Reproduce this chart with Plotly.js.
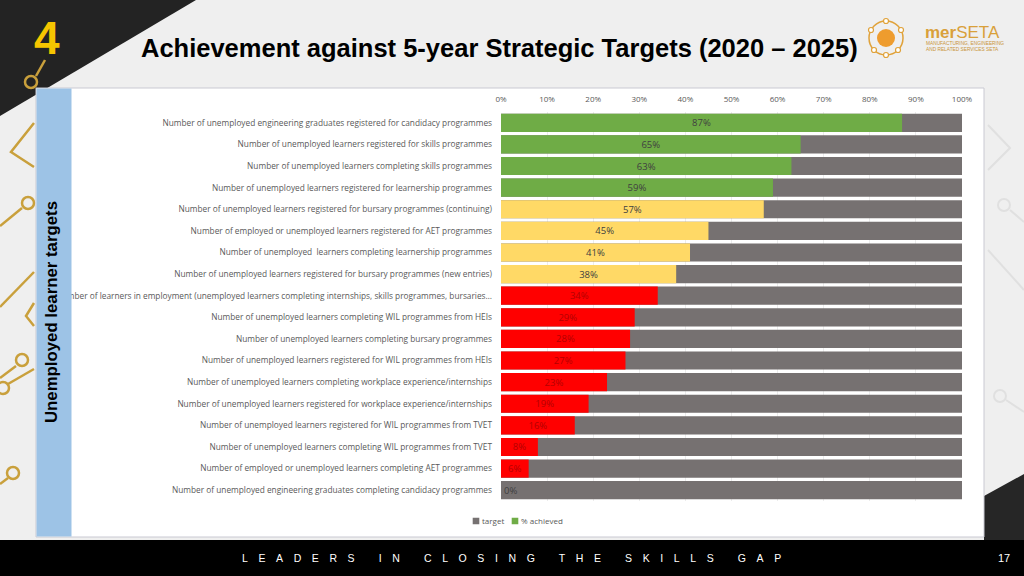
<!DOCTYPE html>
<html>
<head>
<meta charset="utf-8">
<script src="https://cdn.plot.ly/plotly-3.0.1.min.js"></script>
<style>
html,body{margin:0;padding:0;background:#efefef;}
#chart{width:1024px;height:576px;}
#chart .legendpoints path{transform:translate(34px,0px) scale(0.55);}
</style>
</head>
<body>
<div id="chart"></div>
<script>
// ---- data ----
const categories = [
  "Number of unemployed engineering graduates registered for candidacy programmes",
  "Number of unemployed learners registered for skills programmes",
  "Number of unemployed learners completing skills programmes",
  "Number of unemployed learners registered for learnership programmes",
  "Number of unemployed learners registered for bursary programmes (continuing)",
  "Number of employed or unemployed learners registered for AET programmes",
  "Number of unemployed  learners completing learnership programmes",
  "Number of unemployed learners registered for bursary programmes (new entries)",
  "Number of learners in employment (unemployed learners completing internships, skills programmes, bursaries\u2026",
  "Number of unemployed learners completing WIL programmes from HEIs",
  "Number of unemployed learners completing bursary programmes",
  "Number of unemployed learners registered for WIL programmes from HEIs",
  "Number of unemployed learners completing workplace experience/internships",
  "Number of unemployed learners registered for workplace experience/internships",
  "Number of unemployed learners registered for WIL programmes from TVET",
  "Number of unemployed learners completing WIL programmes from TVET",
  "Number of employed or unemployed learners completing AET programmes",
  "Number of unemployed engineering graduates completing candidacy programmes"
];
const achieved = [87, 65, 63, 59, 57, 45, 41, 38, 34, 29, 28, 27, 23, 19, 16, 8, 6, 0];
const target = [100, 100, 100, 100, 100, 100, 100, 100, 100, 100, 100, 100, 100, 100, 100, 100, 100, 100];
const xTickValues = [0, 10, 20, 30, 40, 50, 60, 70, 80, 90, 100];
const seriesNames = ["target", "% achieved"];

// ---- styles ----
const GREEN = "#6FAC46", YELLOW = "#FFD966", RED = "#FF0000", GREY = "#767171";
function bandColor(v) { return v >= 58 ? GREEN : (v >= 35 ? YELLOW : RED); }
function bandText(v) { return v >= 35 ? "#404040" : "#B40000"; }

const W = 1024, H = 576;
const X = p => p / W;
const Y = p => 1 - p / H;
function P(pts, close) {
  return pts.map((p, i) => (i ? "L" : "M") + X(p[0]).toFixed(5) + "," + Y(p[1]).toFixed(5)).join(" ") + (close ? " Z" : "");
}
function circ(cx, cy, r, line, fill, w) {
  return {type: "circle", xref: "paper", yref: "paper", x0: X(cx - r), x1: X(cx + r), y0: Y(cy + r), y1: Y(cy - r),
          line: {color: line, width: w == null ? 2 : w}, fillcolor: fill || "rgba(0,0,0,0)", layer: "below"};
}
function pathShape(pts, opt) {
  return Object.assign({type: "path", xref: "paper", yref: "paper", path: P(pts, opt.close), layer: opt.layer || "below",
          line: {color: opt.line || "rgba(0,0,0,0)", width: opt.width == null ? 0 : opt.width},
          fillcolor: opt.fill || "rgba(0,0,0,0)"});
}

const GOLD = "#C9A03C";
const shapes = [
  pathShape([[0,0],[196,0],[0,116]], {close: true, fill: "#232323"}),
  pathShape([[984,496],[1024,474],[1024,540],[984,540]], {close: true, fill: "#262626"}),
  pathShape([[45,60],[36,76]], {line: GOLD, width: 2.5}),
  circ(31, 82, 6, GOLD, null, 2.5),
  pathShape([[34,123],[11,152],[34,167]], {line: GOLD, width: 2.5}),
  pathShape([[0,226],[22,208]], {line: GOLD, width: 2.5}),
  circ(28, 203, 6, GOLD, null, 2.5),
  pathShape([[0,307],[34,272]], {line: GOLD, width: 2.5}),
  pathShape([[34,303],[26,316],[34,326]], {line: GOLD, width: 2.5}),
  pathShape([[0,378],[16,366]], {line: GOLD, width: 2.5}),
  circ(22, 360, 6, GOLD, null, 2.5),
  pathShape([[8,384],[34,369]], {line: GOLD, width: 2.5}),
  circ(3, 388, 6, GOLD, null, 2.5),
  pathShape([[0,484],[8,478]], {line: GOLD, width: 2.5}),
  circ(13, 473, 6, GOLD, null, 2.5),
  pathShape([[988,125],[1010,148],[988,170]], {line: "#e0e0e0", width: 2}),
  circ(1004, 205, 6, "#e0e0e0", null, 2),
  pathShape([[1010,210],[1024,222]], {line: "#e0e0e0", width: 2}),
  pathShape([[988,250],[1024,290]], {line: "#e0e0e0", width: 2}),
  circ(1000, 396, 6, "#e0e0e0", null, 2),
  pathShape([[1006,400],[1024,412]], {line: "#e0e0e0", width: 2}),
  {type: "rect", xref: "paper", yref: "paper", x0: X(36), x1: X(984), y0: Y(537), y1: Y(88),
   fillcolor: "#ffffff", line: {color: "#c9c9d2", width: 1}, layer: "below"},
  {type: "rect", xref: "paper", yref: "paper", x0: X(36.5), x1: X(71.5), y0: Y(536.5), y1: Y(88.5),
   fillcolor: "#9DC3E6", line: {width: 0}, layer: "above"},
  {type: "rect", xref: "paper", yref: "paper", x0: 0, x1: 1, y0: 0, y1: Y(540),
   fillcolor: "#000000", line: {width: 0}, layer: "above"},
  circ(886, 38, 17, "#E0A23A", null, 1.5),
  circ(886, 38, 9, "#EE9C2E", "#EE9C2E", 0),
  circ(886, 21, 2.5, "#E0A23A", "#ffffff", 1.2),
  circ(871, 30, 2.5, "#E0A23A", "#ffffff", 1.2),
  circ(901, 30, 2.5, "#E0A23A", "#ffffff", 1.2),
  circ(874, 50, 2.5, "#E0A23A", "#ffffff", 1.2),
  circ(898, 50, 2.5, "#E0A23A", "#ffffff", 1.2),
  circ(886, 55, 2.5, "#E0A23A", "#ffffff", 1.2)
];

const annotations = [
  {xref: "paper", yref: "paper", x: X(47), y: Y(38), text: "<b>4</b>", showarrow: false, xanchor: "center", yanchor: "middle",
   font: {family: "Liberation Sans, Arial, sans-serif", size: 46, color: "#F6C500"}},
  {xref: "paper", yref: "paper", x: X(139), y: Y(48), text: "<b>Achievement against 5-year Strategic Targets (2020 \u2013 2025)</b>",
   showarrow: false, xanchor: "left", yanchor: "middle",
   font: {family: "Liberation Sans, Arial, sans-serif", size: 25.5, color: "#000000"}},
  {xref: "paper", yref: "paper", x: X(923), y: Y(33), text: "<b>mer</b>SETA", showarrow: false, xanchor: "left", yanchor: "middle",
   font: {family: "Liberation Sans, Arial, sans-serif", size: 17, color: "#D9A03A"}},
  {xref: "paper", yref: "paper", x: X(924), y: Y(47), text: "MANUFACTURING, ENGINEERING<br>AND RELATED SERVICES SETA", showarrow: false,
   xanchor: "left", yanchor: "middle", align: "left",
   font: {family: "Liberation Sans, Arial, sans-serif", size: 4.8, color: "#C9953A"}},
  {xref: "paper", yref: "paper", x: X(51), y: Y(312), text: "<b>Unemployed learner targets</b>", textangle: -90, showarrow: false,
   xanchor: "center", yanchor: "middle", font: {family: "Liberation Sans, Arial, sans-serif", size: 16.8, color: "#000000"}},
  {xref: "paper", yref: "paper", x: X(240), y: Y(558), text: '<span style="letter-spacing:10.6px">LEADERS IN CLOSING THE SKILLS GAP</span>',
   showarrow: false, xanchor: "left", yanchor: "middle", font: {family: "Liberation Sans, Arial, sans-serif", size: 10.5, color: "#ffffff"}},
  {xref: "paper", yref: "paper", x: X(1004), y: Y(558), text: "17", showarrow: false, xanchor: "center", yanchor: "middle",
   font: {family: "Liberation Sans Narrow, Liberation Sans, sans-serif", size: 11, color: "#ffffff"}}
];

const TXT = "Open Sans, Liberation Sans, sans-serif";
const traces = [
  {type: "bar", orientation: "h", name: seriesNames[0], y: categories, x: target,
   marker: {color: GREY}, hoverinfo: "skip", legend: "legend"},
  {type: "bar", orientation: "h", name: seriesNames[1], y: categories, x: achieved,
   marker: {color: achieved.map(bandColor)},
   text: achieved.map(v => v + "%"), textposition: achieved.map(v => v > 0 ? "inside" : "outside"),
   insidetextanchor: "middle", constraintext: "none", cliponaxis: false,
   textfont: {family: TXT, size: 9.5, color: achieved.map(bandText)},
   outsidetextfont: {family: TXT, size: 9.5, color: "#404040"},
   insidetextfont: {family: TXT, size: 9.5, color: achieved.map(bandText)},
   hoverinfo: "skip", legend: "legend2"}
];

const legendBase = {orientation: "h", yanchor: "middle", xanchor: "left",
  font: {family: TXT, size: 8, color: "#595959"}, bgcolor: "rgba(0,0,0,0)", itemwidth: 30, borderwidth: 0};

const layout = {
  width: W, height: H,
  margin: {l: 0, r: 0, t: 0, b: 0},
  paper_bgcolor: "#efefef", plot_bgcolor: "rgba(0,0,0,0)",
  barmode: "overlay", bargap: 0.16,
  showlegend: true,
  legend: Object.assign({}, legendBase, {x: X(442), y: Y(521)}),
  legend2: Object.assign({}, legendBase, {x: X(481), y: Y(521)}),
  xaxis: {domain: [X(501), X(962)], range: [0, 100], side: "top", tickvals: xTickValues, ticktext: xTickValues.map(v => v + "%"),
          showgrid: true, gridcolor: "#ececec", zeroline: false, showline: false, ticks: "", ticklabelstandoff: 7,
          tickfont: {family: TXT, size: 8, color: "#595959"}, fixedrange: true},
  yaxis: {domain: [Y(501), Y(112)], autorange: "reversed", type: "category", showgrid: false, zeroline: false, showline: false,
          ticks: "", ticklabelstandoff: 8,
          tickfont: {family: TXT, size: 8.3, color: "#595959"}, fixedrange: true},
  shapes: shapes,
  annotations: annotations,
  hovermode: false
};

Plotly.newPlot("chart", traces, layout, {displayModeBar: false, staticPlot: true});
</script>
</body>
</html>
